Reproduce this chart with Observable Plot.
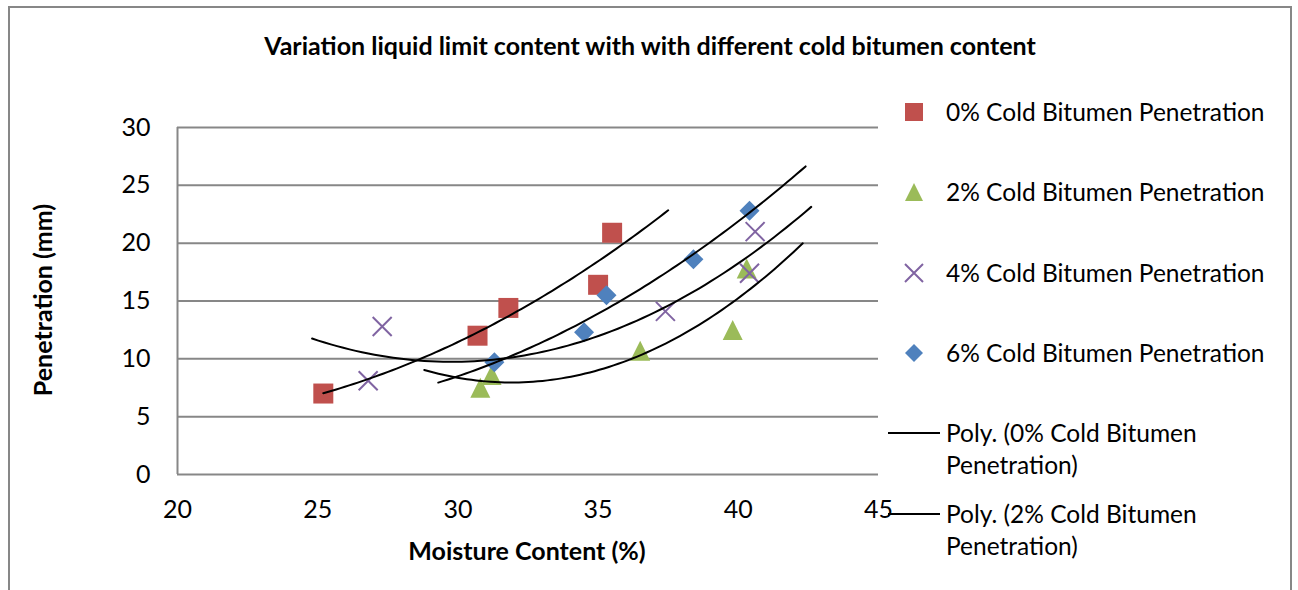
<!DOCTYPE html>
<html><head><meta charset="utf-8">
<script src="https://cdn.jsdelivr.net/npm/d3@7"></script>
<script src="https://cdn.jsdelivr.net/npm/@observablehq/plot@0.6"></script>
<style>
html,body{margin:0;padding:0;background:#fff;overflow:hidden;}
#wrap{position:relative;width:1298px;height:590px;font-family:Lato,"Open Sans",sans-serif;color:#000;overflow:hidden;}
#frame{position:absolute;left:8px;top:6px;width:1284px;height:640px;border:2px solid #878787;box-sizing:border-box;}
#chart{position:absolute;left:0;top:0;}
.title{position:absolute;left:9px;width:1282px;top:28px;line-height:34px;text-align:center;font-weight:bold;font-size:25px;}
.xtitle{position:absolute;left:327px;width:400px;top:534px;line-height:32px;text-align:center;font-weight:bold;font-size:25px;}
.ytitle{position:absolute;left:42px;top:300px;width:300px;line-height:32px;text-align:center;font-weight:bold;font-size:25px;transform:translate(-50%,-50%) rotate(-90deg);}
.leg{position:absolute;left:946px;font-size:24.5px;line-height:32px;white-space:nowrap;}
.legsvg{position:absolute;overflow:visible;}
</style>
</head><body>
<div id="wrap">
  <div id="frame"></div>
  <div id="chart"></div>
  <div class="title" id="title"></div>
  <div class="xtitle" id="xtitle"></div>
  <div class="ytitle" id="ytitle"></div>
</div>
<script>
// ---- data ----
const chartTitle = "Variation liquid limit content with with different cold bitumen content";
const xLabel = "Moisture Content (%)";
const yLabel = "Penetration (mm)";
const series = ["0% Cold Bitumen Penetration", "2% Cold Bitumen Penetration", "4% Cold Bitumen Penetration", "6% Cold Bitumen Penetration"];
const moisture0 = [25.2, 30.7, 31.8, 35.0, 35.5];
const penetration0 = [7.0, 12.0, 14.4, 16.4, 20.9];
const moisture2 = [30.8, 31.2, 36.5, 39.8, 40.3];
const penetration2 = [7.5, 8.6, 10.7, 12.5, 17.8];
const moisture4 = [26.8, 27.3, 37.4, 40.4, 40.6];
const penetration4 = [8.1, 12.8, 14.1, 17.4, 21.0];
const moisture6 = [31.3, 34.5, 35.3, 38.4, 40.4];
const penetration6 = [9.7, 12.3, 15.5, 18.6, 22.8];
const colors = ["#C0504D", "#9BBB59", "#8064A2", "#4F81BD"];
const trendBackward = [0, 2, 2, 2];
const trendForward = [2, 2, 2, 2];
const trendLegend = ["Poly. (0% Cold Bitumen\nPenetration)", "Poly. (2% Cold Bitumen\nPenetration)"];
const xTicks = [20, 25, 30, 35, 40, 45];
const yTicks = [0, 5, 10, 15, 20, 25, 30];

// ---- marker shapes (Excel-like) ----
const rad = size => Math.sqrt(size / Math.PI);
const symSquare = {draw(c, s) { const r = rad(s); c.rect(-r, -r, 2 * r, 2 * r); }};
const symTriangle = {draw(c, s) { const r = rad(s); c.moveTo(0, -r); c.lineTo(r, r); c.lineTo(-r, r); c.closePath(); }};
const symCross = {draw(c, s) { const r = rad(s); c.moveTo(-r, -r); c.lineTo(r, r); c.moveTo(r, -r); c.lineTo(-r, r); }};
const symDiamond = {draw(c, s) { const r = rad(s); c.moveTo(0, -r); c.lineTo(r, 0); c.lineTo(0, r); c.lineTo(-r, 0); c.closePath(); }};
const symbols = [symSquare, symTriangle, symCross, symDiamond];
const filled = [true, true, false, true];

const xs = [moisture0, moisture2, moisture4, moisture6];
const ys = [penetration0, penetration2, penetration4, penetration6];
const points = series.flatMap((s, i) => xs[i].map((x, j) => ({series: s, i, x, y: ys[i][j]})));

// second-order polynomial least squares (Excel "Poly." trendline)
function polyFit(X, Y) {
  const S = k => d3.sum(X, x => x ** k);
  const T = k => d3.sum(X, (x, j) => Y[j] * x ** k);
  const A = [[S(0), S(1), S(2)], [S(1), S(2), S(3)], [S(2), S(3), S(4)]];
  const b = [T(0), T(1), T(2)];
  const n = 3;
  for (let c = 0; c < n; c++) {
    let p = c; for (let r = c + 1; r < n; r++) if (Math.abs(A[r][c]) > Math.abs(A[p][c])) p = r;
    [A[c], A[p]] = [A[p], A[c]]; [b[c], b[p]] = [b[p], b[c]];
    for (let r = c + 1; r < n; r++) { const f = A[r][c] / A[c][c]; for (let k = c; k < n; k++) A[r][k] -= f * A[c][k]; b[r] -= f * b[c]; }
  }
  const co = [0, 0, 0];
  for (let r = n - 1; r >= 0; r--) { let s = b[r]; for (let k = r + 1; k < n; k++) s -= A[r][k] * co[k]; co[r] = s / A[r][r]; }
  return x => co[0] + co[1] * x + co[2] * x * x;
}
const trend = series.flatMap((s, i) => {
  const f = polyFit(xs[i], ys[i]);
  const x0 = d3.min(xs[i]) - trendBackward[i], x1 = d3.max(xs[i]) + trendForward[i];
  return d3.range(0, 81).map(k => { const x = x0 + (x1 - x0) * k / 80; return {series: s, x, y: f(x)}; });
});

const grid = "#878787";
const marks = [
  Plot.ruleY(yTicks, {stroke: grid, strokeWidth: 2}),
  Plot.ruleX([xTicks[0]], {stroke: grid, strokeWidth: 2}),
  Plot.axisY({ticks: yTicks, tickSize: 0, tickPadding: 27, label: null, fontSize: 25}),
  Plot.axisX({ticks: xTicks, tickSize: 0, tickPadding: 26, label: null, fontSize: 25})
];
series.forEach((s, i) => {
  marks.push(Plot.dot(points.filter(d => d.i === i), {
    x: "x", y: "y", symbol: symbols[i], r: i === 2 ? 9.5 : 10,
    fill: filled[i] ? colors[i] : "none",
    stroke: filled[i] ? "none" : colors[i],
    strokeWidth: filled[i] ? 0 : 2
  }));
});
marks.push(Plot.line(trend, {x: "x", y: "y", z: "series", stroke: "#000", strokeWidth: 2}));

const chart = Plot.plot({
  width: 1298, height: 590,
  marginLeft: 177, marginRight: 420, marginTop: 127, marginBottom: 116,
  x: {domain: [20, 45]},
  y: {domain: [0, 30]},
  style: {fontFamily: "Lato, 'Open Sans', sans-serif", fontSize: "25px", color: "#000", background: "transparent", overflow: "visible"},
  marks
});
document.getElementById("chart").appendChild(chart);
document.getElementById("title").textContent = chartTitle;
document.getElementById("xtitle").textContent = xLabel;
document.getElementById("ytitle").textContent = yLabel;

// ---- legend ----
const wrap = document.getElementById("wrap");
const legY = [112, 192, 273, 353];
series.forEach((s, i) => {
  const svg = d3.create("svg").attr("class", "legsvg").attr("width", 24).attr("height", 24)
    .style("left", (914 - 12) + "px").style("top", (legY[i] - 12) + "px");
  const p = d3.path(); symbols[i].draw(p, Math.PI * 9 * 9);
  svg.append("path").attr("transform", "translate(12,12)").attr("d", p.toString())
    .attr("fill", filled[i] ? colors[i] : "none").attr("stroke", filled[i] ? "none" : colors[i]).attr("stroke-width", 2);
  wrap.appendChild(svg.node());
  const t = document.createElement("div"); t.className = "leg"; t.textContent = s;
  t.style.top = (legY[i] - 16) + "px"; wrap.appendChild(t);
});
const polyY = [433, 514];
trendLegend.forEach((s, i) => {
  const svg = d3.create("svg").attr("class", "legsvg").attr("width", 60).attr("height", 4)
    .style("left", "886px").style("top", (polyY[i] - 2) + "px");
  svg.append("line").attr("x1", 2).attr("x2", 54).attr("y1", 2).attr("y2", 2).attr("stroke", "#000").attr("stroke-width", 2);
  wrap.appendChild(svg.node());
  const t = document.createElement("div"); t.className = "leg";
  t.innerHTML = s.split("\n").join("<br>");
  t.style.top = (polyY[i] - 16) + "px"; wrap.appendChild(t);
});
</script>
</body></html>
